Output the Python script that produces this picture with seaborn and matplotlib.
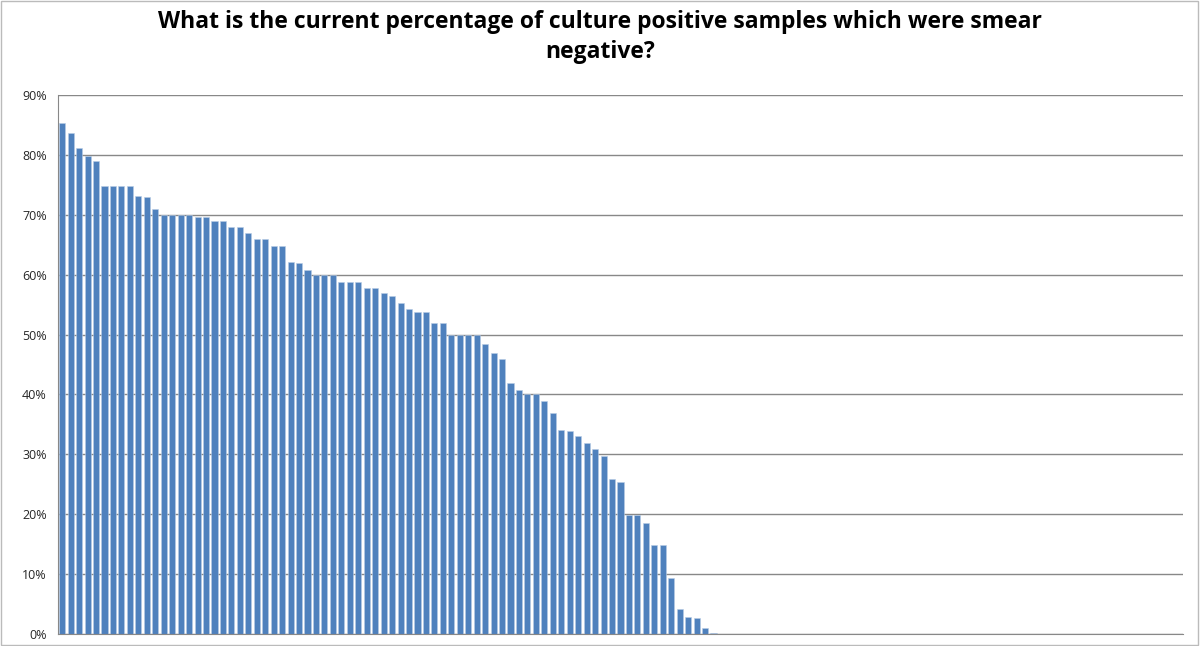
import matplotlib
matplotlib.use("Agg")
import matplotlib.pyplot as plt
import seaborn as sns
import pandas as pd
import numpy as np
from matplotlib.ticker import PercentFormatter, MultipleLocator

values = [85.4, 83.7, 81.1, 79.8, 78.9, 74.8, 74.8, 74.8, 74.8, 73.2, 72.9, 70.9,
          69.9, 69.9, 69.9, 69.9, 69.7, 69.7, 69.0, 68.9, 67.9, 67.9, 66.9, 65.9, 65.9,
          64.8, 64.8, 62.1, 61.9, 60.8, 60.0, 60.0, 60.0, 58.8, 58.8, 58.8, 57.8, 57.8, 56.9,
          56.4, 55.2, 54.2, 53.8, 53.8, 51.9, 51.9, 50.0, 50.0, 50.0, 50.0, 48.5, 47.0, 46.0,
          41.9, 40.8, 40.0, 40.0, 38.9, 36.9, 34.1, 33.9, 33.0, 31.9, 30.9, 29.8,
          25.9, 25.3, 19.9, 19.9, 18.6, 14.9, 14.9, 9.3, 4.2, 2.8, 2.7, 1.0, 0.2]
n_categories = 133
values = values + [0.0] * (n_categories - len(values))
categories = [str(i + 1) for i in range(n_categories)]
title = "What is the current percentage of culture positive samples which were smear\nnegative?"

df = pd.DataFrame({"cat": categories, "val": values})

sns.set_style("white")
plt.rcParams['font.family'] = ['Open Sans', 'DejaVu Sans']
fig = plt.figure(figsize=(12, 6.46), dpi=100)
ax = fig.add_axes([58/1200, 1 - 634/646, (1183-58)/1200, (634-95)/646])
sns.barplot(data=df, x="cat", y="val", color="#4F81BD", saturation=1, width=0.72,
            edgecolor="#B9CDE5", linewidth=0.4, ax=ax)
ax.set_xlim(-0.5, n_categories - 0.5)
ax.set_ylim(0, 90)
ax.yaxis.set_major_locator(MultipleLocator(10))
ax.yaxis.set_major_formatter(PercentFormatter(decimals=0))
ax.grid(axis="y", color="#888888", linewidth=1)
ax.set_axisbelow(True)
ax.set_xticks(np.arange(n_categories + 1) - 0.5)
ax.set_xticklabels([])
ax.tick_params(axis="x", length=4, color="#888888", width=0.8)
ax.tick_params(axis="y", length=4, color="#888888", labelsize=9, pad=4)
ax.set_xlabel("")
ax.set_ylabel("")
for s in ["top", "right"]:
    ax.spines[s].set_visible(False)
for s in ["left", "bottom"]:
    ax.spines[s].set_color("#888888")
fig.text(0.5, 1 - 37/646, title, ha="center", va="center", fontsize=16.5,
         fontweight="bold", color="black", linespacing=1.3)
fig.add_artist(plt.Rectangle((0.001, 0.001), 0.997, 0.997, transform=fig.transFigure,
                             fill=False, edgecolor="#BBBBBB", linewidth=1))
fig.savefig("out.png", dpi=100)
